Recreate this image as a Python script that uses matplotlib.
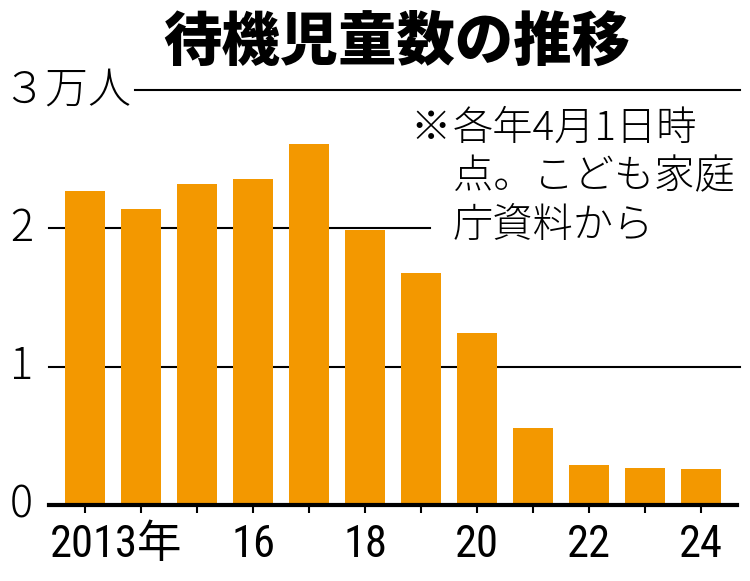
import matplotlib
matplotlib.use('Agg')
import matplotlib.pyplot as plt
import numpy as np

plt.rcParams['font.family'] = ['Noto Sans CJK JP', 'DejaVu Sans']

# 待機児童数 (万人), 各年4月1日時点
years = [2013, 2014, 2015, 2016, 2017, 2018, 2019, 2020, 2021, 2022, 2023, 2024]
counts = [2.27, 2.14, 2.32, 2.36, 2.61, 1.99, 1.68, 1.24, 0.56, 0.29, 0.27, 0.26]
xlabels = {2013: '2013年', 2016: '16', 2018: '18', 2020: '20', 2022: '22', 2024: '24'}
yticks = [0, 1, 2, 3]
ylabels = ['0', '1', '2', '３万人']
title = '待機児童数の推移'
note_mark = '※'
note = '各年4月1日時\n点。こども家庭\n庁資料から'

W, H = 750, 581
fig = plt.figure(figsize=(W / 100, H / 100), dpi=100)
ax = fig.add_axes([49 / W, 76 / H, (737 - 49) / W, (505 - 90) / H])

x = np.arange(len(years))
ax.bar(x, counts, width=0.72, color='#f39800', zorder=2)
ax.set_xlim(-0.643, len(years) - 1 + 0.643)
ax.set_ylim(0, 3)

# grid lines (behind bars), line at 2 stops before the note
ax.axhline(1, xmin=0, xmax=1.005, color='black', lw=1.5, zorder=1, clip_on=False)
ax.axhline(2, xmin=0, xmax=(430 - 49) / 688, color='black', lw=1.5, zorder=1, clip_on=False)
ax.axhline(3, xmin=(135 - 49) / 688, xmax=1.005, color='black', lw=1.5, zorder=1, clip_on=False)
ax.axhline(0, xmin=0, xmax=1.0, color='black', lw=3, zorder=3, clip_on=False)

for s in ax.spines.values():
    s.set_visible(False)
ax.set_yticks([])
ax.set_xticks(x)
ax.set_xticklabels([''] * len(years))
ax.tick_params(axis='x', length=6, width=1.5, color='black', direction='out')

for i, yr in enumerate(years):
    if yr in xlabels:
        lab = xlabels[yr]
        ha = 'left' if yr == years[0] else 'center'
        xx = i - 0.63 if yr == years[0] else i
        ax.text(xx, -0.045, lab, transform=ax.get_xaxis_transform(), ha=ha, va='top',
                fontsize=32, family=['Roboto Condensed', 'Liberation Sans Narrow',
                                     'Noto Sans CJK JP'])

for v, lab in zip(yticks, ylabels):
    xx = -0.068 if lab.startswith('３') else -0.057
    ax.text(xx, v, lab, transform=ax.get_yaxis_transform(), ha='left',
            va='center', fontsize=31, fontweight='light', clip_on=False)

fig.text(397 / W, 1 - 42 / H, title, ha='center', va='center', fontsize=42,
         fontweight='heavy')

fig.text(410 / W, 1 - 108 / H, note_mark, ha='left', va='top', fontsize=29,
         fontweight='light')
fig.text(453 / W, 1 - 108 / H, note, ha='left', va='top', fontsize=29,
         fontweight='light', linespacing=1.2)

fig.savefig('out.png', dpi=100)
